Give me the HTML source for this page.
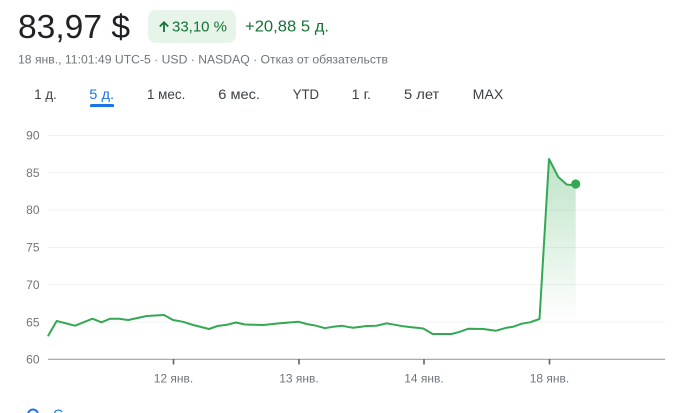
<!DOCTYPE html>
<html>
<head>
<meta charset="utf-8">
<style>
html,body{margin:0;padding:0;background:#fff;}
body{width:684px;height:413px;overflow:hidden;}
svg{display:block;font-family:"Liberation Sans","Noto Sans CJK SC",sans-serif;}
</style>
</head>
<body>
<svg width="684" height="413" viewBox="0 0 684 413" xmlns="http://www.w3.org/2000/svg">
  <defs>
    <linearGradient id="g" x1="0" y1="0" x2="0" y2="1">
      <stop offset="0" stop-color="#34a853" stop-opacity="0.32"/>
      <stop offset="1" stop-color="#34a853" stop-opacity="0"/>
    </linearGradient>
  </defs>

  <!-- Header -->
  <text x="18" y="38" font-size="33" fill="#202124" textLength="112" lengthAdjust="spacingAndGlyphs">83,97 $</text>
  <rect x="148" y="10" width="88" height="33" rx="8" fill="#e6f4ea"/>
  <g stroke="#137333" stroke-width="1.8" fill="none" stroke-linecap="butt">
    <line x1="164" y1="22.5" x2="164" y2="32"/>
    <polyline points="159.8,26.5 164,22.3 168.2,26.5"/>
  </g>
  <text x="172" y="31.7" font-size="15" fill="#137333" textLength="55" lengthAdjust="spacingAndGlyphs">33,10 %</text>
  <text x="245" y="31.7" font-size="16" fill="#137333" textLength="84" lengthAdjust="spacingAndGlyphs">+20,88 5 д.</text>

  <text x="18" y="63.3" font-size="12" fill="#70757a" textLength="370" lengthAdjust="spacingAndGlyphs">18 янв., 11:01:49 UTC-5 · USD · NASDAQ · Отказ от обязательств</text>

  <!-- Tabs -->
  <g font-size="14" fill="#3c4043">
    <text x="34.3" y="99" textLength="22.4" lengthAdjust="spacingAndGlyphs">1 д.</text>
    <text x="89.3" y="99" fill="#1a73e8" textLength="24.7" lengthAdjust="spacingAndGlyphs">5 д.</text>
    <text x="147" y="99" textLength="38.3" lengthAdjust="spacingAndGlyphs">1 мес.</text>
    <text x="218.3" y="99" textLength="41.7" lengthAdjust="spacingAndGlyphs">6 мес.</text>
    <text x="292.7" y="99" textLength="26.3" lengthAdjust="spacingAndGlyphs">YTD</text>
    <text x="351.7" y="99" textLength="19.3" lengthAdjust="spacingAndGlyphs">1 г.</text>
    <text x="404" y="99" textLength="35.3" lengthAdjust="spacingAndGlyphs">5 лет</text>
    <text x="472.7" y="99" textLength="30.6" lengthAdjust="spacingAndGlyphs">MAX</text>
  </g>
  <path d="M90 107 L90 105.5 Q90 104 91.5 104 L112.5 104 Q114 104 114 105.5 L114 107 Z" fill="#1a73e8"/>

  <!-- Grid -->
  <g stroke="#f1f3f4" stroke-width="1">
    <line x1="48" y1="135.5" x2="665" y2="135.5"/>
    <line x1="48" y1="172.5" x2="665" y2="172.5"/>
    <line x1="48" y1="210" x2="665" y2="210"/>
    <line x1="48" y1="247.5" x2="665" y2="247.5"/>
    <line x1="48" y1="284.5" x2="665" y2="284.5"/>
    <line x1="48" y1="322" x2="665" y2="322"/>
  </g>

  <!-- Y labels -->
  <g font-size="12" fill="#70757a" text-anchor="end">
    <text x="39.5" y="139.5">90</text>
    <text x="39.5" y="176.8">85</text>
    <text x="39.5" y="214.2">80</text>
    <text x="39.5" y="251.6">75</text>
    <text x="39.5" y="289">70</text>
    <text x="39.5" y="326.4">65</text>
    <text x="39.5" y="363.5">60</text>
  </g>

  <!-- Axis -->
  <line x1="48" y1="359.3" x2="665" y2="359.3" stroke="#9aa0a6" stroke-width="1.2"/>
  <g stroke="#5f6368" stroke-width="1.6">
    <line x1="173.5" y1="359" x2="173.5" y2="364.5"/>
    <line x1="299" y1="359" x2="299" y2="364.5"/>
    <line x1="424" y1="359" x2="424" y2="364.5"/>
    <line x1="549.5" y1="359" x2="549.5" y2="364.5"/>
  </g>
  <g font-size="12" fill="#70757a" text-anchor="middle">
    <text x="173.5" y="382.5">12 янв.</text>
    <text x="299" y="382.5">13 янв.</text>
    <text x="424" y="382.5">14 янв.</text>
    <text x="549.5" y="382.5">18 янв.</text>
  </g>

  <!-- Fill -->
  <polygon points="539.5,319 549,159 558.3,177 566.7,184.5 571,185 575.7,184 575.7,322 539.5,322" fill="url(#g)"/>

  <!-- Line -->
  <polyline fill="none" stroke="#34a853" stroke-width="2" stroke-linejoin="round" stroke-linecap="round"
    points="48.3,335.5 56.7,321 75,325.7 92.5,318.7 101.3,322.3 110,318.8 119,318.8 128.3,320 146.7,316 164,315 173,320 182.5,321.7 193.3,325 209,329 217.5,326 226.7,324.8 236,322.5 245,324.5 263.3,325 280,323.3 298.3,321.7 306.7,324 316,325.7 325,328.2 333.3,326.7 341.7,325.7 350,327.3 353.3,327.7 366.7,326 376.7,325.7 386.7,323.3 403.3,326.3 411.7,327.3 423.3,328.5 432.7,334 451.7,334 460,331.7 468.3,328.7 483.3,329 496,330.7 506.7,327.7 513.3,326.7 521.7,323.7 530,322.3 539.5,319 549,159 558.3,177 566.7,184.5 571,185 575.7,184"/>
  <circle cx="575.7" cy="184" r="4.6" fill="#34a853"/>

  <!-- Bottom clipped -->
  <circle cx="33" cy="414.5" r="5" fill="none" stroke="#1a73e8" stroke-width="2"/>
  <text x="53" y="419" font-size="14" fill="#1a73e8">С</text>
</svg>
</body>
</html>
